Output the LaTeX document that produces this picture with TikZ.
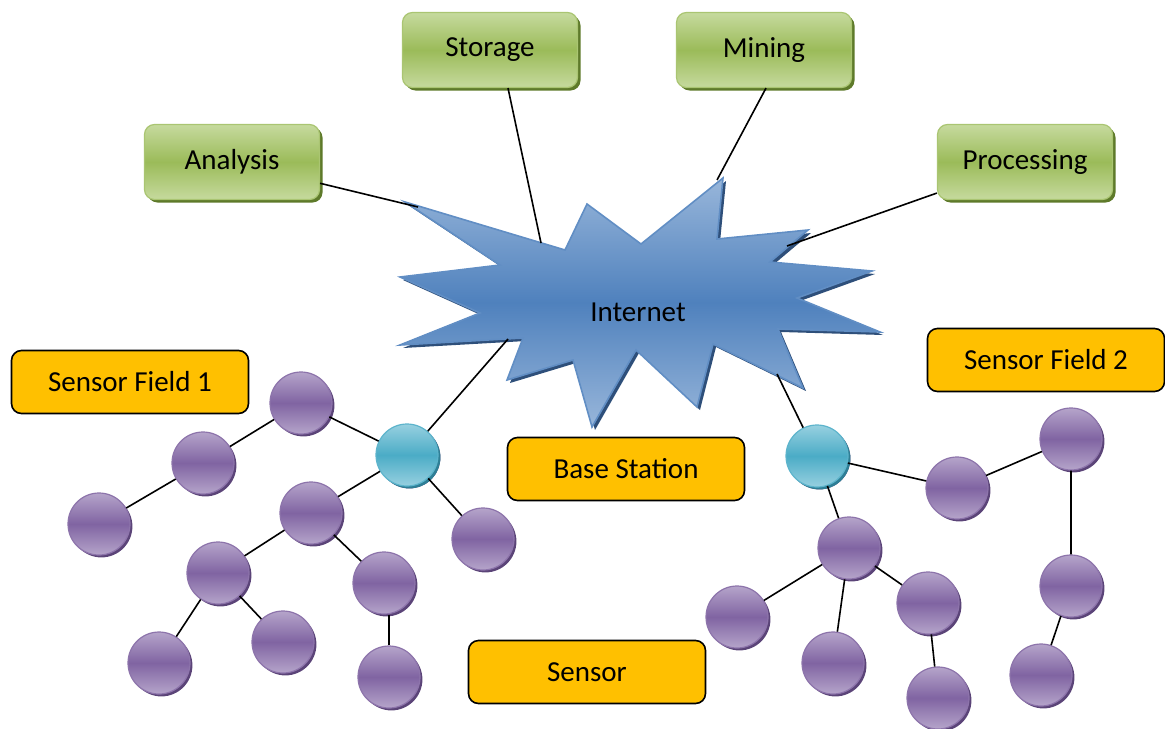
\documentclass[tikz,border=0pt]{standalone}
\usepackage{fontspec}
\setmainfont{Carlito}
\usetikzlibrary{shadows,positioning}

\definecolor{grnlight}{HTML}{C6DA9E}
\definecolor{grnmid}{HTML}{9BBB59}
\definecolor{grndark}{HTML}{5E7A2A}
\definecolor{orng}{HTML}{FFC000}
\definecolor{purplight}{HTML}{B5A4CA}
\definecolor{purpmid}{HTML}{8064A2}
\definecolor{purpdark}{HTML}{5B4478}
\definecolor{teallight}{HTML}{97D0E0}
\definecolor{tealmid}{HTML}{4BACC6}
\definecolor{tealdark}{HTML}{2E7F96}
\definecolor{bluelight}{HTML}{98B6DA}
\definecolor{bluemid}{HTML}{4F81BD}
\definecolor{bluedark}{HTML}{2E4F7A}

\tikzset{
  txt/.style={font=\fontsize{14.5}{17}\selectfont},
  task/.style={txt, rounded corners=5pt, minimum width=87.5pt, minimum height=37.5pt,
    draw=grnmid!85!white, line width=0.6pt,
    top color=grnlight, bottom color=grnlight, middle color=grnmid,
    drop shadow={shadow xshift=1.5pt, shadow yshift=-1.5pt, fill=grndark, opacity=1}},
  fieldbox/.style={txt, rounded corners=5pt, minimum width=118.5pt, minimum height=31.5pt,
    draw=black, line width=0.8pt, fill=orng},
  sensor/.style={circle, minimum size=31pt, inner sep=0pt, draw=purpmid!90!white, line width=0.6pt,
    top color=purplight, bottom color=purplight, middle color=purpmid,
    drop shadow={shadow xshift=1.2pt, shadow yshift=-1.2pt, fill=purpdark, opacity=1}},
  station/.style={sensor, draw=tealmid!90!white,
    top color=teallight, bottom color=teallight, middle color=tealmid,
    drop shadow={shadow xshift=1.2pt, shadow yshift=-1.2pt, fill=tealdark, opacity=1}},
  link/.style={line width=0.8pt}
}

\newcommand{\burst}{(405,202) -- (565,250) -- (587,204) -- (641,244) -- (723,178) -- (717,239)
  -- (808,230) -- (770,262) -- (872,271) -- (797,298) -- (880,332) -- (778,329)
  -- (803,388) -- (713,344) -- (697,407) -- (636,350) -- (592,427) -- (573,360)
  -- (507,380) -- (523,338) -- (400,345) -- (480,313) -- (400,277) -- (500,265) -- cycle}

\begin{document}
\begin{tikzpicture}[x=0.5pt,y=-0.5pt]
\useasboundingbox (0,0) rectangle (1165,728);
%cloud
\fill[bluedark, shift={(3,3)}] \burst;
\shade[top color=bluelight, bottom color=bluelight, middle color=bluemid] \burst;
\draw[bluemid!90!white, line width=0.8pt, line join=miter] \burst;
\path (638,312) node[txt] (inet) {Internet};
\coordinate (inA) at (418,207);
\coordinate (inS) at (541,243);
\coordinate (inM) at (717,180);
\coordinate (inP) at (787,246);
\coordinate (inB) at (508,339);
\coordinate (inC) at (777,374);
%services
\path (490,50) node[task] (sto) {Storage};
\path (764,50) node[task] (min) {Mining};
\path (232,162) node[task] (ana) {Analysis};
\path (1025,162) node[task] (pro) {Processing};
%labels
\path (130,382) node[fieldbox] (sf1) {Sensor Field 1};
\path (1046,360) node[fieldbox] (sf2) {Sensor Field 2};
\path (626,469) node[fieldbox] (bst) {Base Station};
\path (587,672) node[fieldbox] (sen) {Sensor};
%field 1
\path (407,455) node[station] (b1) {};
\path (301,403) node[sensor] (a1) {};
\path (203,463) node[sensor] (a2) {};
\path (99,524) node[sensor] (a3) {};
\path (311,513) node[sensor] (a4) {};
\path (218,573) node[sensor] (a5) {};
\path (483,539) node[sensor] (a6) {};
\path (384,583) node[sensor] (a7) {};
\path (159,663) node[sensor] (a8) {};
\path (283,642) node[sensor] (a9) {};
\path (389,677) node[sensor] (a10) {};
%field 2
\path (817,456) node[station] (b2) {};
\path (957,488) node[sensor] (d1) {};
\path (1071,439) node[sensor] (d2) {};
\path (849,548) node[sensor] (d3) {};
\path (1071,586) node[sensor] (d4) {};
\path (737,617) node[sensor] (d5) {};
\path (928,603) node[sensor] (d6) {};
\path (833,663) node[sensor] (d7) {};
\path (938,698) node[sensor] (d8) {};
\path (1041,675) node[sensor] (d9) {};
%links
\draw[link] (ana) -- (inA);
\draw[link] ([xshift=9pt]sto.south) -- (inS);
\draw[link] ([xshift=1pt]min.south) -- (inM);
\draw[link] (pro) -- (inP);
\draw[link] (b1) -- (inB);
\draw[link] (b2) -- (inC);
\draw[link] (a1) -- (a2) (a2) -- (a3) (a1) -- (b1) (b1) -- (a4) (b1) -- (a6)
  (a4) -- (a5) (a4) -- (a7) (a5) -- (a8) (a5) -- (a9);
\draw[link] (a10.north) -- (a10.north |- a7.south);
\draw[link] (b2) -- (d1) (d1) -- (d2) (d2) -- (d4) (d4) -- (d9) (b2) -- (d3)
  (d3) -- (d5) (d3) -- (d7) (d3) -- (d6) (d6) -- (d8);
\end{tikzpicture}
\end{document}
